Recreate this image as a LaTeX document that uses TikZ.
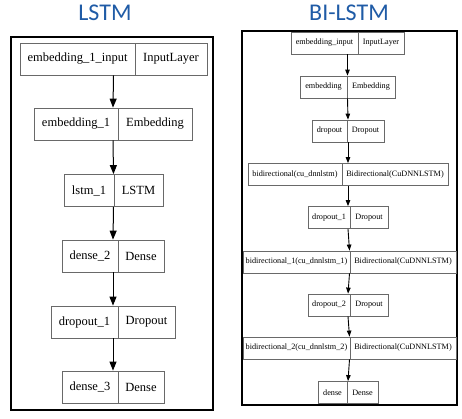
\documentclass[tikz,border=0pt]{standalone}
\usepackage{fontspec}
\setmainfont{Liberation Serif}
\newfontfamily\titlefont{Carlito}
\usetikzlibrary{arrows.meta}
\definecolor{titleblue}{RGB}{31,91,166}
\definecolor{boxgray}{RGB}{105,105,105}

\begin{document}
\begin{tikzpicture}[x=1pt,y=-1pt,
    layer/.style={draw=boxgray,line width=0.8pt,inner sep=0pt},
    cut/.style={boxgray,line width=0.8pt},
    title/.style={titleblue,anchor=base,font=\titlefont\fontsize{24}{28}\selectfont},
    frame/.style={line width=1.1pt}]
  \useasboundingbox (0,0) rectangle (462,418);
  % titles
  \node[title] (lstm) at (105,20) {LSTM};
  \node[title] (bilstm) at (349,20) {BI-LSTM};
  % LSTM model
  \draw[frame] (11,37) rectangle (213,410);
  \foreach \n/\xa/\xd/\xb/\y/\name/\kind in {
      a1/20/135/207/59/embedding\_1\_input/InputLayer,
      a2/34/118/192/124/embedding\_1/Embedding,
      a3/64/114/163/190.5/lstm\_1/LSTM,
      a4/62/118/164/256/dense\_2/Dense,
      a5/51/118/175/322/dropout\_1/Dropout,
      a6/62/118/164/387/dense\_3/Dense}{
    \node[layer,minimum width={\xb-\xa},minimum height=32] (\n) at ({(\xa+\xb)/2},\y) {};
    \draw[cut] (\xd,{\y-16}) -- (\xd,{\y+16});
    \node[font=\fontsize{12.5}{14}\selectfont] (\n-name) at ({(\xa+\xd)/2},\y) {\name};
    \node[font=\fontsize{12.5}{14}\selectfont] (\n-kind) at ({(\xd+\xb)/2},\y) {\kind};
  }
  \foreach \a/\b in {a1/a2,a2/a3,a3/a4,a4/a5,a5/a6}
    \draw[line width=1pt,-{Triangle[length=9pt,width=7pt]}] (\a.south) -- (\b.north);
  % BI-LSTM model
  \draw[frame] (242,31) rectangle (457,405);
  \foreach \n/\xa/\xd/\xb/\y/\name/\kind in {
      b1/291/358/404/43/embedding\_input/InputLayer,
      b2/300/347/395/87/embedding/Embedding,
      b3/312/347/384/131/dropout/Dropout,
      b4/248/342/448/174.5/bidirectional(cu\_dnnlstm)/Bidirectional(CuDNNLSTM),
      b5/308/350/388/217.5/dropout\_1/Dropout,
      b6/243/350/456/262/bidirectional\_1(cu\_dnnlstm\_1)/Bidirectional(CuDNNLSTM),
      b7/308/350/388/305/dropout\_2/Dropout,
      b8/243/350/456/348/bidirectional\_2(cu\_dnnlstm\_2)/Bidirectional(CuDNNLSTM),
      b9/318/347/378/392.5/dense/Dense}{
    \node[layer,minimum width={\xb-\xa},minimum height=22] (\n) at ({(\xa+\xb)/2},\y) {};
    \draw[cut] (\xd,{\y-11}) -- (\xd,{\y+11});
    \node[font=\fontsize{8.2}{10}\selectfont] (\n-name) at ({(\xa+\xd)/2},\y) {\name};
    \node[font=\fontsize{8.2}{10}\selectfont] (\n-kind) at ({(\xd+\xb)/2},\y) {\kind};
  }
  \foreach \a/\b in {b1/b2,b2/b3,b3/b4,b4/b5,b5/b6,b6/b7,b7/b8,b8/b9}
    \draw[line width=0.9pt,-{Triangle[length=6pt,width=4.5pt]}] (\a.south) -- (\b.north);
\end{tikzpicture}
\end{document}
